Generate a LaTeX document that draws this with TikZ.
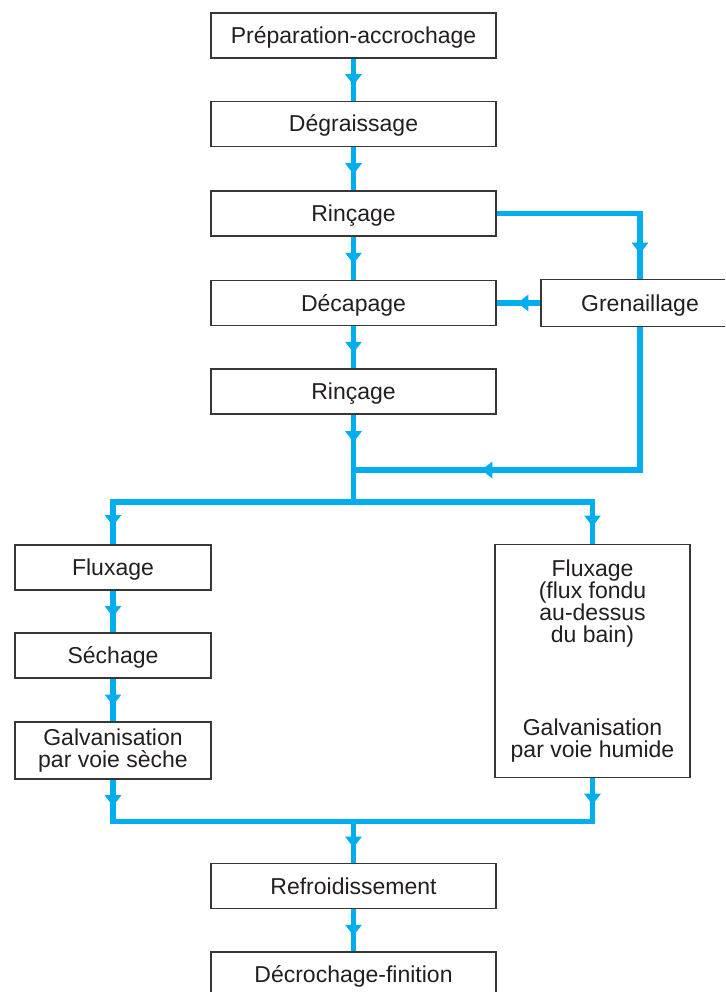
\documentclass[tikz,border=0pt]{standalone}
\usepackage{fontspec}
\setmainfont{Liberation Sans}
\usepackage{tikz}
\usetikzlibrary{arrows.meta,positioning,calc,decorations.markings}

\definecolor{flowblue}{RGB}{0,174,239}
\definecolor{boxgray}{RGB}{55,55,55}
\definecolor{txtgray}{RGB}{35,31,32}

\tikzset{
  stepbox/.style={draw=boxgray, line width=1.4pt, fill=white, inner sep=0pt,
    minimum width=285pt, minimum height=45pt, align=center, text=txtgray,
    font=\fontsize{23}{23}\selectfont},
  oneline/.style={text height=18pt, text depth=2pt},
  sidebox/.style={stepbox, minimum width=196pt},
  flow/.style={draw=flowblue, line width=5.5pt},
  arrowat/.style={postaction={decorate}, decoration={markings,
    mark=at position #1 with {\arrow[flowblue, xshift=5.5pt]{Triangle[length=11pt, width=16pt]}}}}
}

\begin{document}
\begin{tikzpicture}[x=1pt, y=-1pt]
  \useasboundingbox (0,0) rectangle (725,992);
  \clip (0,0) rectangle (725,992);

  \node[stepbox, oneline] at (353.5, 35.5) (prep) {Préparation-accrochage};
  \node[stepbox, oneline] at (353.5, 124) (degr) {Dégraissage};
  \node[stepbox, oneline] at (353.5, 213.5) (rinc1) {Rinçage};
  \node[stepbox, oneline] at (353.5, 303) (decap) {Décapage};
  \node[stepbox, oneline] at (353.5, 391.5) (rinc2) {Rinçage};
  \node[stepbox, oneline, minimum width=198pt, minimum height=47pt] at (640, 303) (gren) {Grenaillage};

  \node[sidebox, oneline] at (113, 567.5) (flux1) {Fluxage};
  \node[sidebox, oneline] at (113, 655.5) (sech) {Séchage};
  \node[sidebox, minimum height=57pt] at (113, 750.5) (galv1) {Galvanisation\\[-1pt]par voie sèche};
  \node[sidebox, minimum width=195pt, minimum height=233pt] at (592.5, 661) (fluxbath)
    {Fluxage\\[-1pt](flux fondu\\[-1pt]au-dessus\\[-1pt]du bain)\\[70pt]Galvanisation\\[-1pt]par voie humide};

  \node[stepbox, oneline] at (353.5, 886) (refr) {Refroidissement};
  \node[stepbox, oneline] at (353.5, 974.5) (decro) {Décrochage-finition};

  \coordinate (back) at (353.5, 470);
  \coordinate (split) at (353.5, 502);
  \coordinate (join) at (353.5, 821.5);

  \draw[flow, arrowat=0.5] (prep) -- (degr);
  \draw[flow, arrowat=0.5] (degr) -- (rinc1);
  \draw[flow, arrowat=0.5] (rinc1) -- (decap);
  \draw[flow, arrowat=0.5] (decap) -- (rinc2);
  \draw[flow, arrowat=178pt] (rinc1.east) -| (gren.north);
  \draw[flow, arrowat=0.4] (gren.west) -- (decap.east);
  \draw[flow, arrowat=296pt] (gren.south) |- (back);
  \draw[flow, arrowat=22pt] (rinc2.south) -- (split);

  \draw[flow, arrowat=259pt] (split) -| (flux1.north);
  \draw[flow, arrowat=258pt] (split) -| (fluxbath.north);
  \draw[flow, arrowat=0.5] (flux1) -- (sech);
  \draw[flow, arrowat=0.5] (sech) -- (galv1);

  \draw[flow, arrowat=21pt] (galv1.south) |- (join);
  \draw[flow, arrowat=21pt] (fluxbath.south) |- (join);
  \draw[flow, arrowat=0.5] (join) -- (refr.north);
  \draw[flow, arrowat=0.5] (refr) -- (decro);
\end{tikzpicture}
\end{document}
